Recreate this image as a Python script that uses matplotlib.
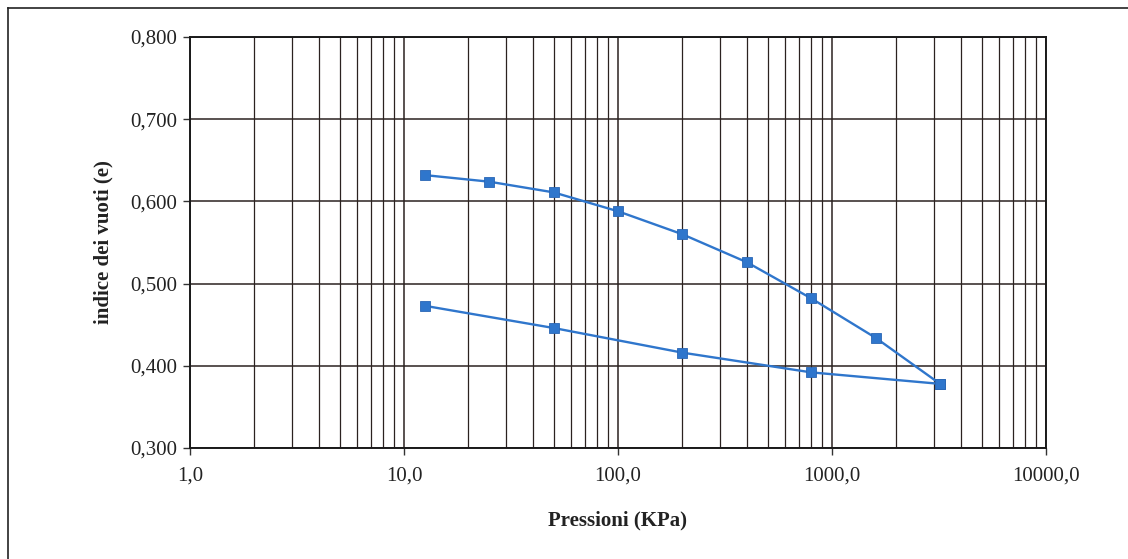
import matplotlib
matplotlib.use("Agg")
import matplotlib.pyplot as plt
from matplotlib.ticker import FixedLocator, LogLocator, FuncFormatter, NullFormatter
from matplotlib.lines import Line2D

# Data
load_p = [12.5, 25, 50, 100, 200, 400, 800, 1600, 3200]
load_e = [0.632, 0.624, 0.611, 0.588, 0.560, 0.526, 0.482, 0.434, 0.378]
unload_p = [3200, 800, 200, 50, 12.5]
unload_e = [0.378, 0.392, 0.416, 0.446, 0.473]
y_ticks = [0.3, 0.4, 0.5, 0.6, 0.7, 0.8]
x_ticks = [1, 10, 100, 1000, 10000]
x_label = "Pressioni (KPa)"
y_label = "indice dei vuoti (e)"

plt.rcParams['font.family'] = ['Liberation Serif', 'DejaVu Serif']

fig = plt.figure(figsize=(11.28, 5.59), dpi=100)
ax = fig.add_axes([190/1128, 1-448/559, (1046-190)/1128, (448-37)/559])

color = '#2f76cc'
ax.plot(load_p, load_e, color=color, lw=1.7, marker='s', ms=7,
        markerfacecolor=color, markeredgecolor='#2a66b4', mew=0.6, zorder=3)
ax.plot(unload_p, unload_e, color=color, lw=1.7, marker='s', ms=7,
        markerfacecolor=color, markeredgecolor='#2a66b4', mew=0.6, zorder=3)

ax.set_xscale('log')
ax.set_xlim(1, 10000)
ax.set_ylim(0.3, 0.8)
ax.xaxis.set_major_locator(FixedLocator(x_ticks))
ax.xaxis.set_minor_locator(LogLocator(base=10, subs=range(2, 10), numticks=20))
ax.xaxis.set_minor_formatter(NullFormatter())
ax.xaxis.set_major_formatter(FuncFormatter(lambda v, p: f"{v:.1f}".replace('.', ',')))
ax.yaxis.set_major_locator(FixedLocator(y_ticks))
ax.yaxis.set_major_formatter(FuncFormatter(lambda v, p: f"{v:.3f}".replace('.', ',')))

gc = '#2b2220'
ax.grid(True, which='major', axis='both', color=gc, lw=1.1)
ax.grid(True, which='minor', axis='x', color=gc, lw=0.9)
ax.set_axisbelow(True)
for s in ax.spines.values():
    s.set_color('#1a1a1a')
    s.set_linewidth(1.4)

ax.tick_params(axis='both', which='major', direction='out', length=5, width=1,
               color='#333333', labelsize=15, labelcolor='#222222')
ax.tick_params(axis='x', which='minor', length=0)
ax.tick_params(axis='x', which='major', pad=8)
ax.tick_params(axis='y', which='major', pad=4)

ax.set_xlabel(x_label, fontsize=15, fontweight='bold', color='#222222', labelpad=18)
ax.set_ylabel(y_label, fontsize=15, fontweight='bold', color='#222222', labelpad=12)

# outer frame (top and left edges)
fig.add_artist(Line2D([8/1128, 1.0], [1-8/559, 1-8/559], transform=fig.transFigure,
                      color='#222222', lw=1.2))
fig.add_artist(Line2D([8/1128, 8/1128], [0.0, 1-8/559], transform=fig.transFigure,
                      color='#222222', lw=1.2))

fig.savefig('out.png', dpi=100)
